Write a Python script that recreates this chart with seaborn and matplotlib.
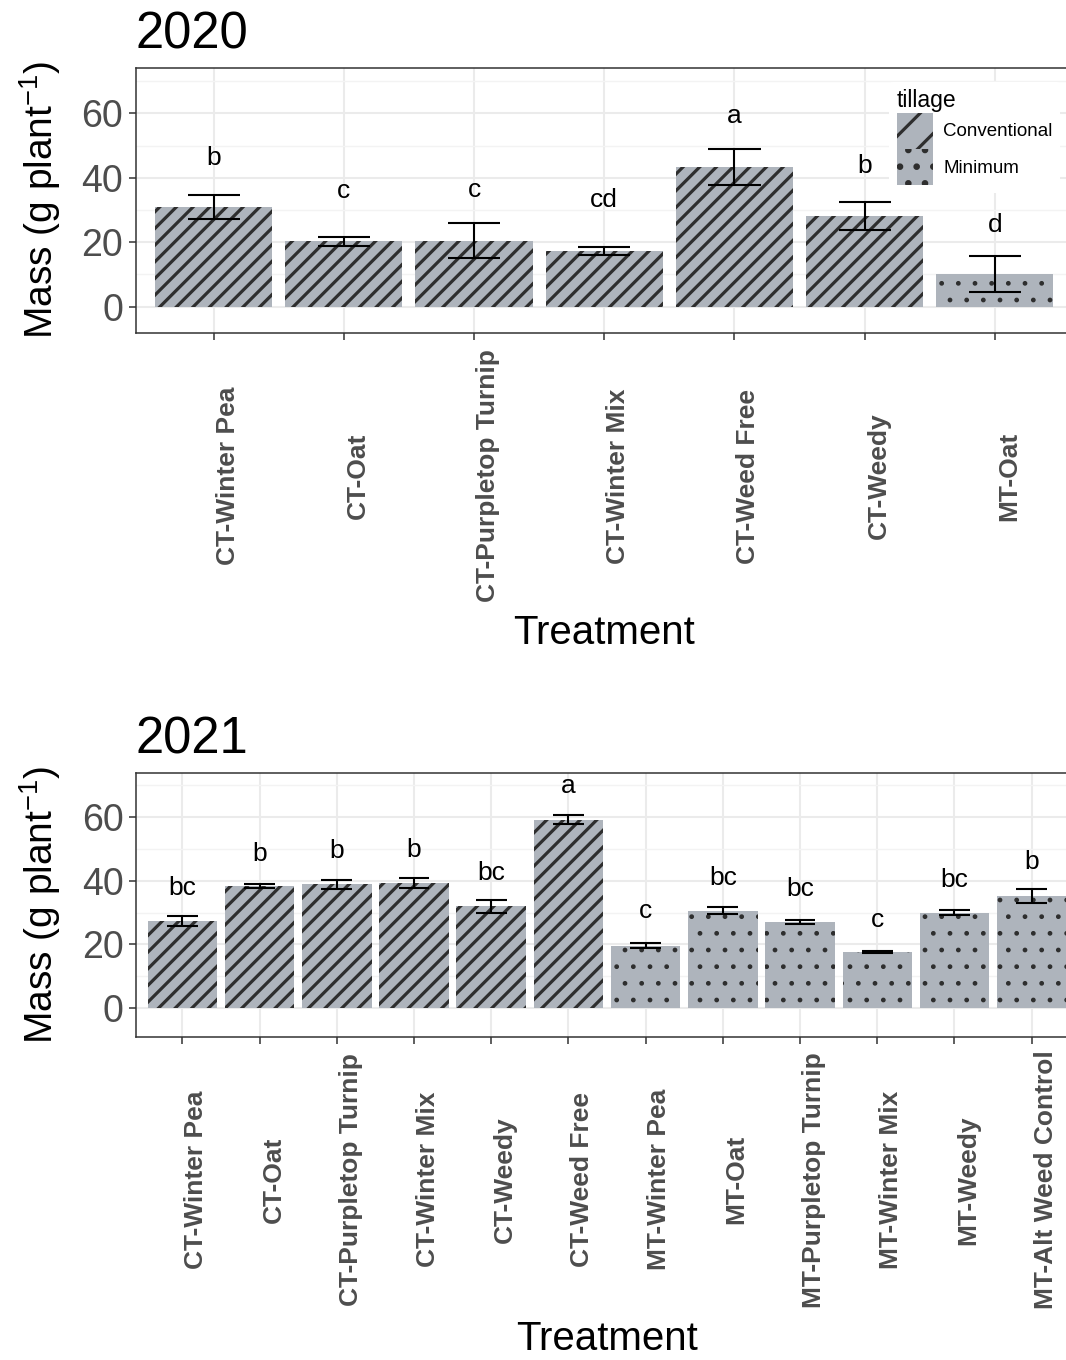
import numpy as np
import pandas as pd
import matplotlib
matplotlib.use('Agg')
import matplotlib.pyplot as plt
import matplotlib.transforms as mtransforms
from matplotlib.patches import Patch
from matplotlib.ticker import FixedLocator
import seaborn as sns

# ---- data ----
treat_2020 = ['CT-Winter Pea', 'CT-Oat', 'CT-Purpletop Turnip', 'CT-Winter Mix',
              'CT-Weed Free', 'CT-Weedy', 'MT-Oat']
till_2020 = ['Conventional', 'Conventional', 'Conventional', 'Conventional',
             'Conventional', 'Conventional', 'Minimum']
mass_2020 = [31.0, 20.3, 20.5, 17.2, 43.5, 28.1, 10.1]
se_2020 = [3.7, 1.4, 5.5, 1.2, 5.6, 4.3, 5.5]
letters_2020 = ['b', 'c', 'c', 'cd', 'a', 'b', 'd']
letter_y_2020 = [44.0, 33.6, 34.1, 30.8, 56.9, 41.6, 23.3]

treat_2021 = ['CT-Winter Pea', 'CT-Oat', 'CT-Purpletop Turnip', 'CT-Winter Mix',
              'CT-Weedy', 'CT-Weed Free', 'MT-Winter Pea', 'MT-Oat',
              'MT-Purpletop Turnip', 'MT-Winter Mix', 'MT-Weedy', 'MT-Alt Weed Control']
till_2021 = ['Conventional'] * 6 + ['Minimum'] * 6
mass_2021 = [27.4, 38.2, 38.8, 39.3, 31.9, 59.1, 19.6, 30.6, 27.0, 17.6, 30.0, 35.3]
se_2021 = [1.55, 0.6, 1.3, 1.6, 2.0, 1.5, 0.8, 1.1, 0.7, 0.3, 0.75, 2.2]
letters_2021 = ['bc', 'b', 'b', 'b', 'bc', 'a', 'c', 'bc', 'bc', 'c', 'bc', 'b']
letter_y_2021 = [35.5, 46.2, 47.0, 47.3, 40.2, 67.3, 28.2, 38.6, 35.2, 25.6, 38.1, 43.5]

tillage_levels = ['Conventional', 'Minimum']
hatches = {'Conventional': '//', 'Minimum': '.'}
hatch_lw = {'Conventional': 2.3, 'Minimum': 1.0}

fill = '#AEB4BC'
hatch_col = '#2E2E2E'
txt_gray = '#4D4D4D'
frame_col = '#333333'
grid_col = '#EBEBEB'

sns.set_theme(style='white')
plt.rcParams['font.family'] = ['Liberation Sans', 'DejaVu Sans']
plt.rcParams['mathtext.fontset'] = 'custom'
plt.rcParams['mathtext.rm'] = 'Liberation Sans'
plt.rcParams['mathtext.it'] = 'Liberation Sans:italic'
plt.rcParams['hatch.linewidth'] = 2.3
plt.rcParams['text.color'] = 'black'

W, H = 1066, 1360
fig = plt.figure(figsize=(W / 100, H / 100), dpi=100)
fig.patch.set_facecolor('white')

# panel boxes in pixels (left, top, right, bottom); right edge runs off the image like the original
boxes = [(135.5, 67.7, 1073, 333), (136, 772.7, 1078, 1036.7)]
ylims = [(-8.2, 74.2), (-8.9, 73.8)]
xlab_y = [-1.06, -1.075]


def style_hatch(p, level):
    p.set_hatch(hatches[level])
    p.set_edgecolor(hatch_col)
    p.set_linewidth(0)
    if hasattr(p, 'set_hatch_linewidth'):
        p.set_hatch_linewidth(hatch_lw[level])


def draw_panel(ax, year, treat, till, mass, se, letters, letter_y, ylim, xly):
    df = pd.DataFrame({'treatment': treat, 'tillage': till, 'mass': mass, 'se': se})
    n = len(treat)
    ax.set_axisbelow(True)
    sns.barplot(data=df, x='treatment', y='mass', hue='tillage', order=treat,
                hue_order=tillage_levels, palette={k: fill for k in tillage_levels},
                dodge=False, width=0.9, errorbar=None, legend=False, saturation=1,
                edgecolor=hatch_col, linewidth=0, ax=ax)
    for p in ax.patches:
        idx = int(round(p.get_x() + p.get_width() / 2))
        style_hatch(p, till[idx])
        p.set_zorder(2)

    pos = np.arange(n)
    lo = df['mass'] - df['se']
    hi = df['mass'] + df['se']
    ax.vlines(pos, lo, hi, color='black', lw=1.5, zorder=4)
    ax.hlines(lo, pos - 0.2, pos + 0.2, color='black', lw=1.5, zorder=4)
    ax.hlines(hi, pos - 0.2, pos + 0.2, color='black', lw=1.5, zorder=4)

    for i in range(n):
        ax.text(pos[i], letter_y[i], letters[i], ha='center', va='baseline',
                fontsize=19, color='black', zorder=5)

    ax.set_xlim(-0.6, n - 0.4)
    ax.set_ylim(*ylim)
    ax.set_yticks([0, 20, 40, 60])
    ax.yaxis.set_minor_locator(FixedLocator([10, 30, 50, 70]))
    ax.set_xticks(pos)
    ax.grid(True, which='major', color=grid_col, lw=1.5)
    ax.grid(True, which='minor', axis='y', color='#F3F3F3', lw=1.0)
    for s in ax.spines.values():
        s.set_color(frame_col)
        s.set_linewidth(1.1)
        s.set_visible(True)

    ax.tick_params(axis='y', which='major', length=5, width=1.1, color=frame_col,
                   labelsize=27, labelcolor=txt_gray, pad=4, left=True)
    ax.tick_params(axis='y', which='minor', length=0)
    ax.tick_params(axis='x', length=5, width=1.1, color=frame_col,
                   labelsize=19, labelcolor=txt_gray, pad=98, bottom=True)
    ax.set_xticklabels(treat, rotation=90, fontweight='bold', va='center', ha='center')
    shift = mtransforms.ScaledTranslation(10 / 72, 0, fig.dpi_scale_trans)
    for lab in ax.get_xticklabels():
        lab.set_transform(lab.get_transform() + shift)

    ax.set_xlabel('Treatment', fontsize=29, color='black')
    ax.xaxis.set_label_coords(0.5, xly)
    ax.set_ylabel('Mass (g plant$^{-1}$)', fontsize=28, color='black')
    ax.yaxis.set_label_coords(-0.077, 0.5)
    ax.set_title(year, loc='left', fontsize=36.5, color='black', pad=14)


axes = []
for (l, t, r, b) in boxes:
    axes.append(fig.add_axes([l / W, 1 - b / H, (r - l) / W, (b - t) / H]))

draw_panel(axes[0], '2020', treat_2020, till_2020, mass_2020, se_2020,
           letters_2020, letter_y_2020, ylims[0], xlab_y[0])
draw_panel(axes[1], '2021', treat_2021, till_2021, mass_2021, se_2021,
           letters_2021, letter_y_2021, ylims[1], xlab_y[1])

handles = []
for k in tillage_levels:
    h = Patch(facecolor=fill)
    style_hatch(h, k)
    if k == 'Conventional':
        h.set_hatch('/')
    handles.append(h)
leg = axes[0].legend(handles, tillage_levels, title='tillage', loc='upper left',
                     bbox_to_anchor=(889 / W, 1 - 82 / H), bbox_transform=fig.transFigure,
                     frameon=True, framealpha=1, edgecolor='none', facecolor='white',
                     fontsize=13.5, title_fontsize=16.5, handlelength=1.95,
                     handleheight=2.6, labelspacing=0, handletextpad=0.55,
                     borderpad=0.4, alignment='left', borderaxespad=0)
for t in leg.get_texts():
    t.set_color('black')
leg.get_title().set_color('black')
leg.set_zorder(10)

fig.savefig('out.png', dpi=100)
